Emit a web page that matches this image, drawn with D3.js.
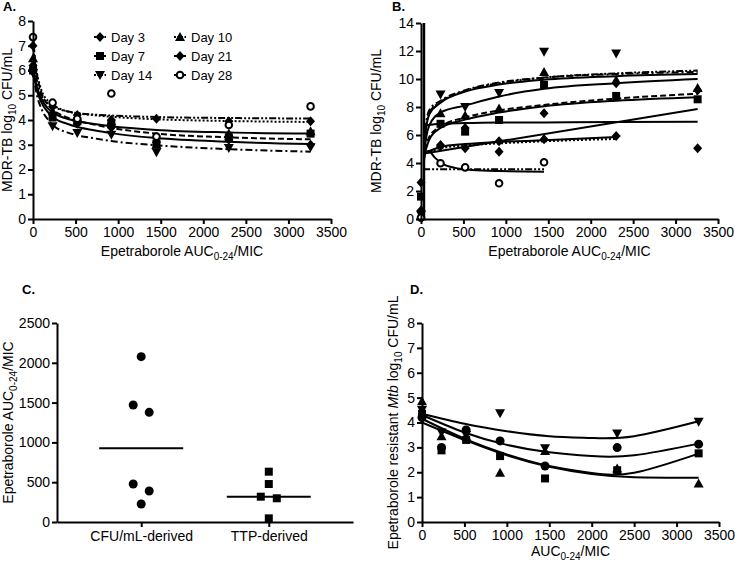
<!DOCTYPE html>
<html>
<head>
<meta charset="utf-8">
<script src="https://cdn.jsdelivr.net/npm/d3@7"></script>
<style>
  body { margin: 0; background: #fff; }
  svg { font-family: Arial, "Liberation Sans", Helvetica, sans-serif; }
</style>
</head>
<body>
<svg id="chart" width="735" height="565"></svg>
<script>
// ---------- data ----------
const doses = [0, 230, 520, 920, 1450, 2300, 3260]
const xTicks = [0, 500, 1000, 1500, 2000, 2500, 3000, 3500]

// panel A: points per day (log10 CFU/mL)
const aDay3 = [7.0, 4.55, 4.2, 4.0, 4.05, 3.95, 3.95]
const aDay7 = [6.0, 4.1, 3.95, 3.85, 3.05, 3.3, 3.45]
const aDay14 = [5.9, 3.75, 3.47, 3.4, 2.7, 2.87, 2.9]
const aDay10 = [6.5, 4.35, 4.1, 3.95, 3.0, 3.45, 3.55]
const aDay21 = [6.2, 4.25, 3.85, 3.7, 3.1, 3.2, 3.0]
const aDay28 = [7.35, 4.7, 4.05, 5.07, 3.33, 3.8, 4.55]

// panel A: fitted curves read at these AUC/MIC values
const aKnots = [0, 40, 100, 180, 260, 400, 520, 700, 920, 1450, 2300, 3260]
const aFitDay3 = [7.0, 6.0, 5.2, 4.75, 4.55, 4.35, 4.27, 4.2, 4.13, 4.03, 3.96, 3.92]
const aFitDay10 = [6.5, 5.7, 5.0, 4.65, 4.5, 4.35, 4.28, 4.22, 4.18, 4.12, 4.08, 4.06]
const aFitDay7 = [6.0, 5.4, 4.85, 4.45, 4.25, 4.05, 3.95, 3.85, 3.75, 3.6, 3.5, 3.45]
const aFitDay28 = [7.35, 6.0, 5.1, 4.6, 4.35, 4.1, 3.97, 3.83, 3.68, 3.45, 3.3, 3.22]
const aFitDay21 = [6.2, 5.3, 4.7, 4.3, 4.05, 3.85, 3.72, 3.6, 3.47, 3.27, 3.12, 3.03]
const aFitDay14 = [6.0, 5.1, 4.45, 4.0, 3.72, 3.5, 3.38, 3.27, 3.15, 2.98, 2.82, 2.72]

// panel B: points per day
const bDay3 = [2.6, 5.29, 5.05, 4.81, 5.69, 5.93, 5.05]
const bDay7 = [1.6, 6.8, 6.24, 7.07, 9.57, 8.79, 8.55]
const bDay14 = [0.3, 8.9, 8.0, 9.0, 11.95, 11.83, null]
const bDay10 = [0.2, 7.55, 7.4, 7.9, 10.5, 9.93, 9.35]
const bDay21 = [0.6, 5.2, 6.5, 5.55, 7.55, 9.7, 9.2]
const bDay28 = [0.1, 3.98, 3.69, 2.55, 4.05, null, null]

// panel B: fitted curves
const bKnots = [35, 60, 100, 230, 520, 920, 1450, 2300, 3260]
const bFit1 = [4.2, 6.8, 7.8, 8.45, 9.2, 9.75, 10.1, 10.35, 10.5]
const bFit2 = [4.0, 6.5, 7.6, 8.35, 9.15, 9.7, 10.1, 10.4, 10.6]
const bFit3 = [4.3, 6.5, 7.5, 8.3, 9.1, 9.6, 9.95, 10.2, 10.35]
const bFit4 = [4.4, 5.8, 6.7, 7.6, 8.1, 8.75, 9.3, 9.7, 10.0]
const bFit5 = [4.3, 5.2, 5.9, 6.6, 7.25, 7.75, 8.15, 8.6, 8.95]
const bFit6 = [4.4, 5.0, 5.7, 6.5, 7.1, 7.6, 8.05, 8.45, 8.7]
const bFlatKnots = [60, 230, 520, 920, 1450, 2300, 3260]
const bFlat = [6.7, 6.8, 6.85, 6.9, 6.9, 6.92, 6.95]
const bRiseKnots = [60, 3260]
const bRise = [4.7, 7.85]
const bShortKnots = [60, 230, 520, 920, 1450, 2310]
const bShortDotted = [4.7, 5.05, 5.25, 5.4, 5.55, 5.72]
const bShortSolid = [4.75, 5.15, 5.35, 5.5, 5.62, 5.85]
const bCircleKnots = [30, 90, 160, 250, 400, 600, 920, 1450]
const bCircleFit = [4.6, 4.85, 4.4, 3.95, 3.65, 3.5, 3.42, 3.38]
const bLowKnots = [25, 1450]
const bLow = [3.55, 3.55]
const bSpikeX = [35, 35]
const bSpikeY = [0, 14]

// panel C
const cCategories = ["CFU/mL-derived", "TTP-derived"]
const cfuDerived = [2077, 1470, 1378, 477, 389, 226]
const cfuSlot = [0, -1, 1, -1, 1, 0]
const ttpDerived = [632, 477, 318, 298, 46]
const ttpSlot = [0, 0, -1, 1, 0]

// panel D
const dDown = [4.5, 3.6, 3.5, 4.37, 2.96, 3.56, 4.03]
const dCircle = [4.2, 3.0, 3.7, 3.26, 2.25, 2.99, 3.13]
const dSquare = [4.35, 2.88, 3.3, 2.65, 1.75, 2.08, 2.76]
const dUp = [4.85, 3.45, 3.45, 1.98, 2.85, 2.15, 1.55]
const dKnots = [0, 500, 1000, 1500, 2000, 2500, 3260]
const dFitDown = [4.35, 3.95, 3.65, 3.45, 3.38, 3.45, 4.05]
const dFitCircle = [4.3, 3.6, 3.1, 2.8, 2.65, 2.68, 3.15]
const dFitSquare = [4.15, 3.35, 2.72, 2.25, 1.97, 1.98, 2.75]
const dFitUp = [4.0, 3.3, 2.68, 2.22, 1.93, 1.8, 1.78]

// ---------- helpers ----------
const svg = d3.select("#chart")
const dash = { solid: null, dotted: "2,2", dashed: "6,3", dashdot: "7,3,2,3", dashdotdot: "7,2,2,2,2,2" }
const fmt = d3.format("d")

function symbolPath(type, cx, cy) {
  const p = d3.path()
  if (type == "square") { p.rect(cx - 4, cy - 4, 8, 8) }
  else if (type == "diamond") { p.moveTo(cx, cy - 5); p.lineTo(cx + 4.5, cy); p.lineTo(cx, cy + 5); p.lineTo(cx - 4.5, cy); p.closePath() }
  else if (type == "up") { p.moveTo(cx, cy - 5); p.lineTo(cx + 5, cy + 4); p.lineTo(cx - 5, cy + 4); p.closePath() }
  else if (type == "down") { p.moveTo(cx, cy + 5); p.lineTo(cx + 5, cy - 4); p.lineTo(cx - 5, cy - 4); p.closePath() }
  else { p.arc(cx, cy, type == "open" ? 3.3 : 4.5, 0, 2 * Math.PI) }
  return p.toString()
}

function drawMarker(g, type, cx, cy) {
  g.append("path")
    .attr("d", symbolPath(type, cx, cy))
    .attr("fill", type == "open" ? "#fff" : "#000")
    .attr("stroke", "#000")
    .attr("stroke-width", type == "open" ? 2 : 0)
}

function styleAxis(g) {
  g.attr("font-size", 14).attr("font-family", "Arial, 'Liberation Sans', sans-serif")
  g.select(".domain").attr("stroke-width", 2)
  g.selectAll(".tick line").attr("stroke-width", 2)
  g.selectAll(".tick text").attr("fill", "#000")
}

function richText(g, parts, x, y, rotate, anchor = "middle", size = 14) {
  const t = g.append("text")
    .attr("transform", `translate(${x},${y})` + (rotate ? " rotate(-90)" : ""))
    .attr("text-anchor", anchor)
    .attr("font-size", size)
    .attr("fill", "#000")
  let shifted = 0
  parts.forEach(p => {
    const s = t.append("tspan").text(p.t)
    const want = p.sub ? 4 : 0
    if (want != shifted) { s.attr("dy", want - shifted); shifted = want }
    if (p.sub) s.attr("font-size", 10)
    if (p.it) s.attr("font-style", "italic")
  })
  return t
}

function axes(box, x, y, yTicks) {
  svg.append("g")
    .attr("transform", `translate(0,${box.bottom})`)
    .call(d3.axisBottom(x).tickValues(xTicks).tickFormat(fmt).tickSize(5).tickSizeOuter(0).tickPadding(3))
    .call(styleAxis)
  svg.append("g")
    .attr("transform", `translate(${box.left},0)`)
    .call(d3.axisLeft(y).tickValues(yTicks).tickFormat(fmt).tickSize(5).tickSizeOuter(0).tickPadding(2))
    .call(styleAxis)
}

function curve(g, x, y, knots, vals, style, width = 2, kind = d3.curveMonotoneX) {
  const line = d3.line().x(d => x(d[0])).y(d => y(d[1])).curve(kind)
  g.append("path")
    .attr("d", line(knots.map((k, i) => [k, vals[i]])))
    .attr("fill", "none")
    .attr("stroke", "#000")
    .attr("stroke-width", width)
    .attr("stroke-dasharray", dash[style])
}

function points(g, x, y, vals, type) {
  vals.forEach((v, i) => { if (v != null) drawMarker(g, type, x(doses[i]), y(v)) })
}

function panelLabel(txt, x, y) {
  svg.append("text").attr("x", x).attr("y", y).attr("font-size", 13)
    .attr("font-weight", "bold").attr("fill", "#000").text(txt)
}

// ---------- panel A ----------
{
  const box = { left: 33, right: 331, top: 21, bottom: 219 }
  const x = d3.scaleLinear().domain([0, 3500]).range([box.left, box.right])
  const y = d3.scaleLinear().domain([0, 8]).range([box.bottom, box.top])
  const g = svg.append("g")
  curve(g, x, y, aKnots, aFitDay3, "dotted")
  curve(g, x, y, aKnots, aFitDay10, "dashdotdot")
  curve(g, x, y, aKnots, aFitDay7, "solid")
  curve(g, x, y, aKnots, aFitDay28, "dashed")
  curve(g, x, y, aKnots, aFitDay21, "solid")
  curve(g, x, y, aKnots, aFitDay14, "dashdot")
  points(g, x, y, aDay3, "diamond")
  points(g, x, y, aDay7, "square")
  points(g, x, y, aDay14, "down")
  points(g, x, y, aDay10, "up")
  points(g, x, y, aDay21, "diamond")
  points(g, x, y, aDay28, "open")
  axes(box, x, y, d3.range(0, 9))
  panelLabel("A.", 3, 11)
  richText(svg, [{ t: "Epetraborole AUC" }, { t: "0-24", sub: true }, { t: "/MIC" }], (box.left + box.right) / 2, 256, false)
  richText(svg, [{ t: "MDR-TB log" }, { t: "10", sub: true }, { t: " CFU/mL" }], 12, (box.top + box.bottom) / 2, true)

  // legend
  const legend = [
    ["Day 3", "diamond", "dotted"], ["Day 7", "square", "solid"], ["Day 14", "down", "dashdot"],
    ["Day 10", "up", "dashdotdot"], ["Day 21", "diamond", "solid"], ["Day 28", "open", "solid"]
  ]
  legend.forEach((d, i) => {
    const mx = i < 3 ? 100 : 180
    const my = 37 + (i % 3) * 19
    g.append("line").attr("x1", mx - 6).attr("x2", mx + 6).attr("y1", my).attr("y2", my)
      .attr("stroke", "#000").attr("stroke-width", 2).attr("stroke-dasharray", d[2] == "solid" ? null : "2,1.5")
    drawMarker(g, d[1], mx, my)
    g.append("text").attr("x", mx + 11).attr("y", my + 5).attr("font-size", 13).attr("fill", "#000").text(d[0])
  })
}

// ---------- panel B ----------
{
  const box = { left: 421, right: 718, top: 23, bottom: 219 }
  const x = d3.scaleLinear().domain([0, 3500]).range([box.left, box.right])
  const y = d3.scaleLinear().domain([0, 14]).range([box.bottom, box.top])
  const g = svg.append("g")
  curve(g, x, y, bSpikeX, bSpikeY, "solid", 2.5)
  curve(g, x, y, bKnots, bFit1, "dashdot")
  curve(g, x, y, bKnots, bFit2, "dashdotdot")
  curve(g, x, y, bKnots, bFit3, "solid")
  curve(g, x, y, bKnots, bFit4, "solid")
  curve(g, x, y, bKnots, bFit5, "dashed")
  curve(g, x, y, bKnots, bFit6, "solid")
  curve(g, x, y, bFlatKnots, bFlat, "solid")
  curve(g, x, y, bRiseKnots, bRise, "solid")
  curve(g, x, y, bShortKnots, bShortDotted, "dotted")
  curve(g, x, y, bShortKnots, bShortSolid, "solid")
  curve(g, x, y, bCircleKnots, bCircleFit, "solid")
  curve(g, x, y, bLowKnots, bLow, "dashdotdot")
  points(g, x, y, bDay3, "diamond")
  points(g, x, y, bDay7, "square")
  points(g, x, y, bDay14, "down")
  points(g, x, y, bDay10, "up")
  points(g, x, y, bDay21, "diamond")
  points(g, x, y, bDay28, "open")
  axes(box, x, y, d3.range(0, 15, 2))
  panelLabel("B.", 392, 11)
  richText(svg, [{ t: "Epetraborole AUC" }, { t: "0-24", sub: true }, { t: "/MIC" }], (box.left + box.right) / 2, 256, false)
  richText(svg, [{ t: "MDR-TB log" }, { t: "10", sub: true }, { t: " CFU/mL" }], 381, (box.top + box.bottom) / 2, true)
}

// ---------- panel C ----------
{
  const box = { left: 57, right: 353, top: 323, bottom: 522 }
  const x = d3.scalePoint().domain(cCategories).range([box.left, box.right]).padding(0.66)
  const y = d3.scaleLinear().domain([0, 2500]).range([box.bottom, box.top])
  const g = svg.append("g")
  const groups = [[cfuDerived, cfuSlot, "circle"], [ttpDerived, ttpSlot, "square"]]
  groups.forEach(([vals, slots, type], gi) => {
    const cx = x(cCategories[gi])
    vals.forEach((v, i) => drawMarker(g, type, cx + slots[i] * 8, y(v)))
    const med = d3.median(vals)
    g.append("line").attr("x1", cx - 42).attr("x2", cx + 42).attr("y1", y(med)).attr("y2", y(med))
      .attr("stroke", "#000").attr("stroke-width", 2)
  })
  svg.append("g")
    .attr("transform", `translate(0,${box.bottom})`)
    .call(d3.axisBottom(x).tickSize(5).tickSizeOuter(0).tickPadding(4))
    .call(styleAxis)
  svg.append("g")
    .attr("transform", `translate(${box.left},0)`)
    .call(d3.axisLeft(y).tickValues(d3.range(0, 2501, 500)).tickFormat(fmt).tickSize(5).tickSizeOuter(0).tickPadding(2))
    .call(styleAxis)
  panelLabel("C.", 22, 294)
  richText(svg, [{ t: "Epetraborole AUC" }, { t: "0-24", sub: true }, { t: "/MIC" }], 13, (box.top + box.bottom) / 2, true)
}

// ---------- panel D ----------
{
  const box = { left: 422, right: 719, top: 323, bottom: 522 }
  const x = d3.scaleLinear().domain([0, 3500]).range([box.left, box.right])
  const y = d3.scaleLinear().domain([0, 8]).range([box.bottom, box.top])
  const g = svg.append("g")
  curve(g, x, y, dKnots, dFitDown, "solid", 2, d3.curveNatural)
  curve(g, x, y, dKnots, dFitCircle, "solid", 2, d3.curveNatural)
  curve(g, x, y, dKnots, dFitSquare, "solid", 2, d3.curveNatural)
  curve(g, x, y, dKnots, dFitUp, "solid", 2, d3.curveNatural)
  points(g, x, y, dDown, "down")
  points(g, x, y, dCircle, "circle")
  points(g, x, y, dSquare, "square")
  points(g, x, y, dUp, "up")
  axes(box, x, y, d3.range(0, 9))
  panelLabel("D.", 410, 294)
  richText(svg, [{ t: "AUC" }, { t: "0-24", sub: true }, { t: "/MIC" }], (box.left + box.right) / 2, 556, false)
  richText(svg, [{ t: "Epetraborole resistant " }, { t: "Mtb", it: true }, { t: " log" }, { t: "10", sub: true }, { t: " CFU/mL" }],
    398, (box.top + box.bottom) / 2, true)
}
</script>
</body>
</html>
